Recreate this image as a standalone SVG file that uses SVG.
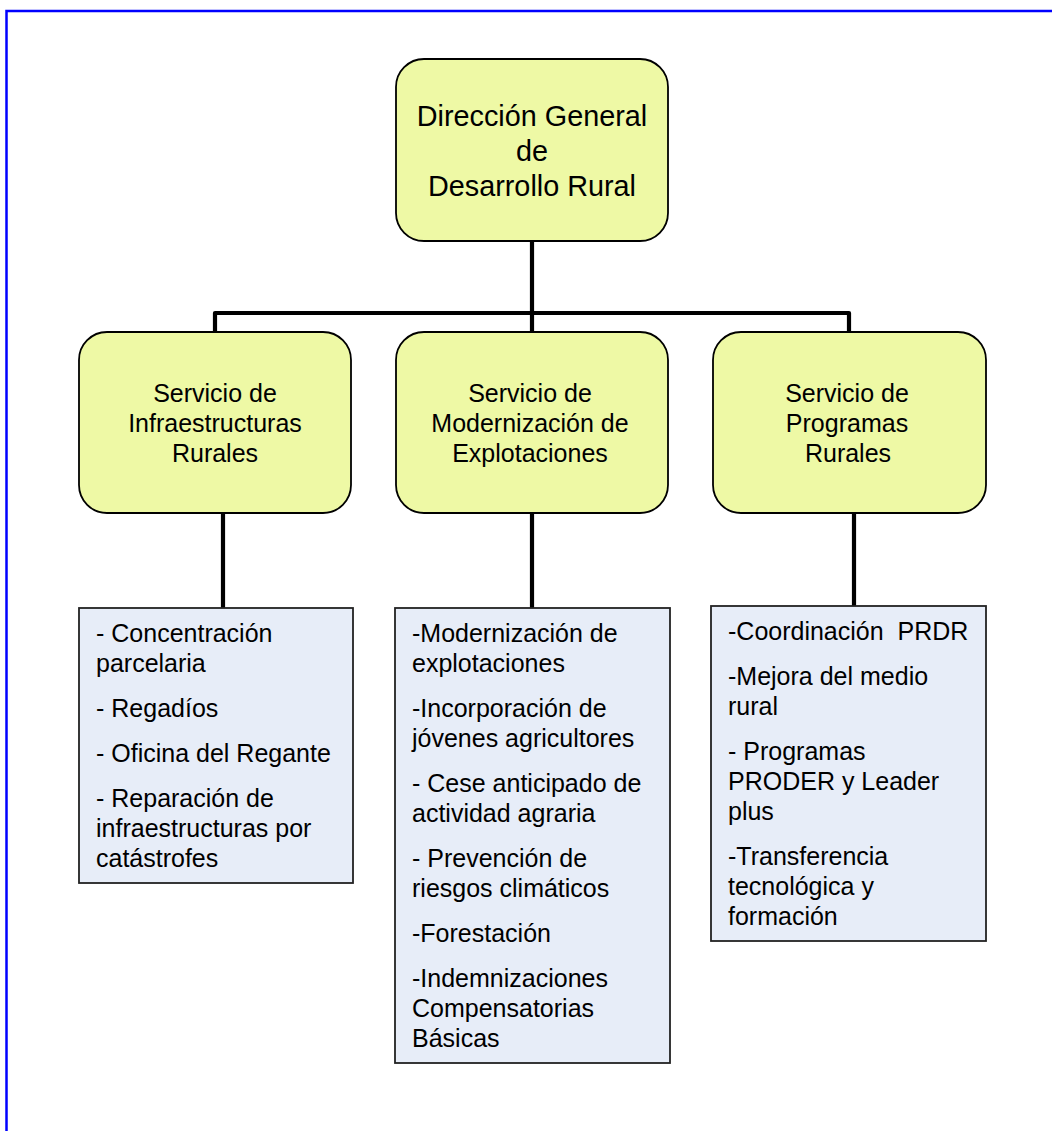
<svg xmlns="http://www.w3.org/2000/svg" width="1052" height="1131" viewBox="0 0 1052 1131">
<style>
.frame{fill:none;stroke:#0000ff;stroke-width:2.5}
.unit{fill:#eef9a5;stroke:#000;stroke-width:1.8}
.list{fill:#e7edf8;stroke:#222;stroke-width:1.8}
.conn{fill:none;stroke:#000;stroke-width:4.2;stroke-linejoin:round}
text{font-family:"Liberation Sans",Arial,sans-serif;fill:#000}
.top{font-size:28.8px;text-anchor:middle}
.svc{font-size:25px;text-anchor:middle}
.item{font-size:25px}
</style>
<rect width="1052" height="1131" fill="#fff"/>
<path class="frame" d="M6.5,1131 V11 H1052"/>
<g id="connectors">
<path class="conn" d="M532,241 V332"/>
<path class="conn" d="M215,332 V313 H849 V332"/>
<path class="conn" d="M223,513 V609"/>
<path class="conn" d="M532,513 V609"/>
<path class="conn" d="M854,513 V606"/>
</g>
<g id="dg">
<rect class="unit" x="396" y="59" width="272" height="182" rx="28"/>
<text class="top" x="532" y="126">Dirección General</text>
<text class="top" x="532" y="161">de</text>
<text class="top" x="532" y="196">Desarrollo Rural</text>
</g>
<g id="svc-infra">
<rect class="unit" x="79" y="332" width="272" height="181" rx="28"/>
<text class="svc" x="215" y="402">Servicio de</text>
<text class="svc" x="215" y="432">Infraestructuras</text>
<text class="svc" x="215" y="462">Rurales</text>
</g>
<g id="svc-moder">
<rect class="unit" x="396" y="332" width="272" height="181" rx="28"/>
<text class="svc" x="530" y="402">Servicio de</text>
<text class="svc" x="530" y="432">Modernización de</text>
<text class="svc" x="530" y="462">Explotaciones</text>
</g>
<g id="svc-prog">
<rect class="unit" x="713" y="332" width="273" height="181" rx="28"/>
<text class="svc" x="847" y="402">Servicio de</text>
<text class="svc" x="847" y="432">Programas</text>
<text class="svc" x="848" y="462">Rurales</text>
</g>
<g id="list-infra">
<rect class="list" x="79" y="608" width="274" height="275"/>
<text class="item" x="96" y="642">- Concentración</text>
<text class="item" x="96" y="672">parcelaria</text>
<text class="item" x="96" y="717">- Regadíos</text>
<text class="item" x="96" y="762">- Oficina del Regante</text>
<text class="item" x="96" y="807">- Reparación de</text>
<text class="item" x="96" y="837">infraestructuras por</text>
<text class="item" x="96" y="867">catástrofes</text>
</g>
<g id="list-moder">
<rect class="list" x="395" y="608" width="275" height="455"/>
<text class="item" x="412" y="642">-Modernización de</text>
<text class="item" x="412" y="672">explotaciones</text>
<text class="item" x="412" y="717">-Incorporación de</text>
<text class="item" x="412" y="747">jóvenes agricultores</text>
<text class="item" x="412" y="792">- Cese anticipado de</text>
<text class="item" x="412" y="822">actividad agraria</text>
<text class="item" x="412" y="867">- Prevención de</text>
<text class="item" x="412" y="897">riesgos climáticos</text>
<text class="item" x="412" y="942">-Forestación</text>
<text class="item" x="412" y="987">-Indemnizaciones</text>
<text class="item" x="412" y="1017">Compensatorias</text>
<text class="item" x="412" y="1047">Básicas</text>
</g>
<g id="list-prog">
<rect class="list" x="711" y="606" width="275" height="335"/>
<text class="item" x="728" y="640" xml:space="preserve">-Coordinación  PRDR</text>
<text class="item" x="728" y="685">-Mejora del medio</text>
<text class="item" x="728" y="715">rural</text>
<text class="item" x="728" y="760">- Programas</text>
<text class="item" x="728" y="790">PRODER y Leader</text>
<text class="item" x="728" y="820">plus</text>
<text class="item" x="728" y="865">-Transferencia</text>
<text class="item" x="728" y="895">tecnológica y</text>
<text class="item" x="728" y="925">formación</text>
</g>
</svg>
